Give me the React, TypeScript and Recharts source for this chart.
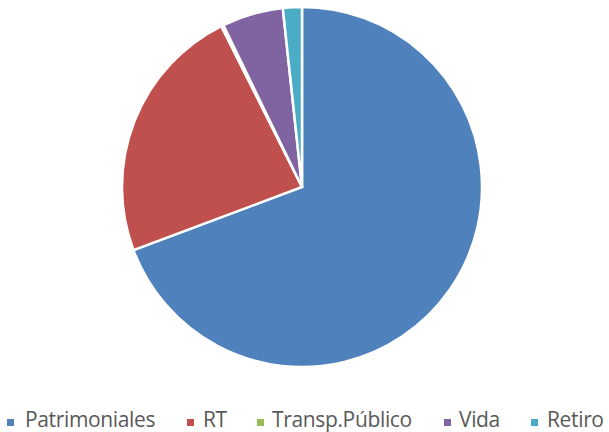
import React from 'react';
import { PieChart, Pie, Cell, Legend } from 'recharts';

const categories = ['Patrimoniales', 'RT', 'Transp.Público', 'Vida', 'Retiro'];
const values = [69.3, 23.3, 0.2, 5.5, 1.7];
const colors = ['#4F81BD', '#C0504D', '#9BBB59', '#8064A2', '#4BACC6'];
const legendIconX = [7, 187, 257, 444, 531];
const legendTextX = [25, 203, 272, 459, 547];

const data = categories.map((name, i) => ({ name, value: values[i] }));

const renderLegend = () => (
  <div style={{ position: 'relative', width: 609, height: 30 }}>
    {categories.map((name, i) => (
      <React.Fragment key={name}>
        <span
          style={{
            position: 'absolute',
            left: legendIconX[i],
            top: 14,
            width: 7,
            height: 7,
            background: colors[i],
          }}
        />
        <span
          style={{
            position: 'absolute',
            left: legendTextX[i],
            top: 0,
            fontFamily: 'Open Sans, sans-serif',
            fontSize: 21,
            letterSpacing: -0.35,
            lineHeight: 'normal',
            color: '#595959',
            whiteSpace: 'nowrap',
          }}
        >
          {name}
        </span>
      </React.Fragment>
    ))}
  </div>
);

export default function App() {
  return (
    <div style={{ position: 'absolute', left: 0, top: 0, width: 609, height: 432, background: '#fff' }}>
      <PieChart width={609} height={432} margin={{ top: 0, right: 0, bottom: 0, left: 0 }}>
        <Pie
          data={data}
          dataKey="value"
          nameKey="name"
          cx={302}
          cy={187}
          outerRadius={180}
          startAngle={90}
          endAngle={-270}
          stroke="#fff"
          strokeWidth={2.5}
          isAnimationActive={false}
        >
          {data.map((d, i) => (
            <Cell key={d.name} fill={colors[i]} />
          ))}
        </Pie>
        <Legend
          content={renderLegend}
          wrapperStyle={{ position: 'absolute', left: 0, top: 405, width: 609 }}
        />
      </PieChart>
    </div>
  );
}
